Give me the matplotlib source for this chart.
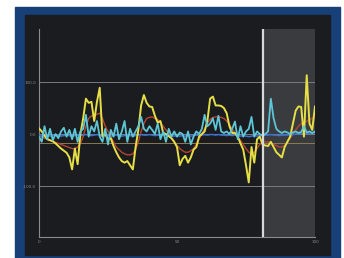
import numpy as np
import matplotlib.pyplot as plt
from matplotlib.patches import Rectangle

x = np.arange(101)

yellow = [11, 5, -3, -10, -12, -14, -18, -23, -28, -32,
          -36, -45, -68, -28, -58, 0, 30, 68, 60, 62,
          25, 62, 89, -5, 0, -10, -8, -23, -35, -45,
          -52, -55, -52, -60, -68, -25, 8, 55, 75, 60,
          53, 52, 35, 22, 25, 2, 0, -4, -8, -15,
          -25, -60, -48, -42, -55, -45, -30, -25, -5, 0,
          5, 25, 68, 72, 55, 55, 54, 50, 40, 15,
          2, 2, -5, -18, -30, -60, -93, -25, -55, -10,
          -5, -20, -22, -23, -15, -25, -35, -40, -45, -25,
          -15, -5, 20, 45, 53, 52, -5, 113, 20, 8, 53]

cyan = [-5, -15, 15, -10, 10, -12, 0, -8, 5, 12,
        -5, 8, -10, 10, -15, 5, 10, 37, -5, 15,
        5, 25, -5, -15, 10, -20, 8, -5, 20, -10,
        5, 25, -15, 10, -5, 5, 15, 33, 10, 5,
        15, 8, 0, 20, -10, 5, -15, 10, -5, 5,
        -5, 3, 0, -15, 5, -20, -5, 5, 0, 10,
        37, 15, 20, 30, 8, 35, 5, 2, 5, 0,
        10, 24, -10, 15, -5, 5, 10, 33, -5, 5,
        0, -3, 0, 5, 68, 30, 10, 5, 2, 5,
        3, 0, 3, 5, 2, 4, 15, 3, 5, 2, 5]

red = [-5, -5, -8, -10, -12, -14, -16, -18, -20, -22,
       -24, -26, -28, -28, -25, -18, -5, 15, 30, 35,
       35, 38, 40, 30, 15, 5, -5, -15, -25, -30,
       -35, -38, -40, -40, -38, -30, -15, 5, 20, 30,
       32, 33, 30, 28, 22, 15, 8, 0, -8, -15,
       -22, -28, -32, -35, -35, -32, -28, -20, -10, 0,
       10, 20, 28, 32, 33, 33, 32, 30, 25, 18,
       10, 2, -5, -12, -20, -28, -35, -38, -35, -28,
       -20, -15, -15, -15, -17, -20, -22, -25, -25, -22,
       -15, -8, 0, 8, 15, 20, 22, 25, 28, 30, 32]

blue = [-3, -4, -3, -2, -4, -3, -2, -3, -4, -3,
        -2, -3, -4, -3, -2, -3, -2, -1, -2, -3,
        -2, -1, -2, -3, -2, -3, -4, -3, -2, -3,
        -4, -3, -2, -3, -4, -3, -2, -1, -2, -2,
        -1, -2, -3, -2, -3, -2, -3, -2, -3, -4,
        -3, -4, -3, -4, -3, -4, -3, -2, -3, -2,
        -1, -2, -1, -1, -2, -1, -2, -2, -3, -2,
        -3, -2, -3, -4, -3, -4, -5, -4, -3, -4,
        -3, -3, -2, -2, -1, -2, -2, -3, -2, -2,
        -2, -1, -1, 0, 0, 1, 0, 1, 1, 2, 2]

threshold = -17
marker_x = 81

fig = plt.figure(figsize=(3.44, 2.58), dpi=100)
fig.patch.set_facecolor("white")
fig.patches.append(Rectangle((15 / 344, 0), 325 / 344, 251 / 258,
                             transform=fig.transFigure, color="#173f78", zorder=-2))
fig.patches.append(Rectangle((25 / 344, 3 / 258), 305 / 344, 240 / 258,
                             transform=fig.transFigure, color="#1b1c20", zorder=-1))

ax = fig.add_axes([39 / 344, 21 / 258, 276 / 344, 208 / 258])
ax.set_facecolor("none")
ax.set_zorder(5)

ax.axvspan(marker_x, 100, color="#3a3b3f", zorder=0)
for yv in (-100, 0, 100):
    ax.axhline(yv, color="#7a7b7e", lw=0.7, zorder=1)
ax.axhline(threshold, color="#8a7a55", lw=0.7, zorder=1)

ax.plot(x, red, color="#b5442c", lw=1.0, zorder=2)
ax.plot(x, blue, color="#3d72d0", lw=1.1, zorder=3)
ax.plot(x, yellow, color="#e6df45", lw=1.4, zorder=4)
ax.plot(x, cyan, color="#5cc6d6", lw=1.3, zorder=5)

ax.axvline(marker_x, color="#d8d8d8", lw=1.6, zorder=6)

ax.set_xlim(0, 100)
ax.set_ylim(-198, 202)
ax.set_xticks([0, 50, 100])
ax.set_yticks([-100, 0, 100])
ax.set_yticklabels(["-100.0", "0.0", "100.0"])
ax.tick_params(colors="#8a8a8a", labelsize=3, length=0, pad=2)
for s in ("top", "right"):
    ax.spines[s].set_visible(False)
for s in ("left", "bottom"):
    ax.spines[s].set_color("#8a8a8a")
    ax.spines[s].set_linewidth(0.8)

fig.savefig("out.png", dpi=100)
